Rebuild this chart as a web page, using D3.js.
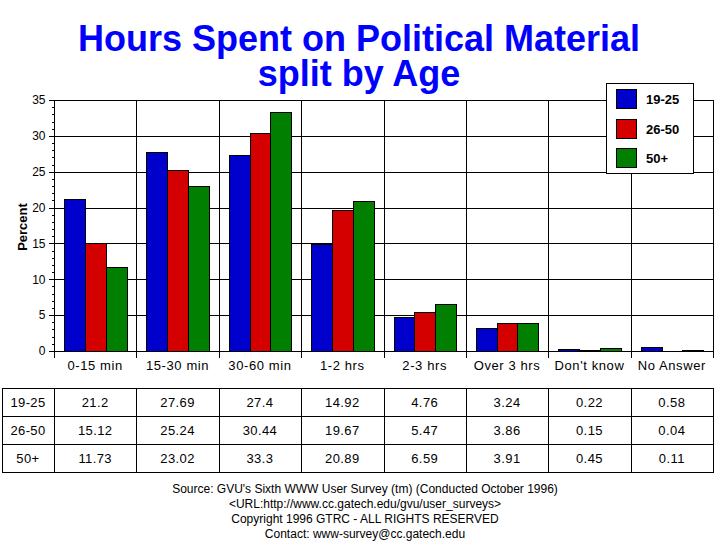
<!DOCTYPE html>
<html><head><meta charset="utf-8">
<script src="https://cdn.jsdelivr.net/npm/d3@7/dist/d3.min.js"></script>
<style>body{margin:0;background:#fff}svg{display:block}text{font-family:"Liberation Sans",Arial,sans-serif}</style>
</head><body>
<script>
const categories = ["0-15 min","15-30 min","30-60 min","1-2 hrs","2-3 hrs","Over 3 hrs","Don't know","No Answer"];
const seriesNames = ["19-25","26-50","50+"];
const s1925 = [21.2,27.69,27.4,14.92,4.76,3.24,0.22,0.58];
const s2650 = [15.12,25.24,30.44,19.67,5.47,3.86,0.15,0.04];
const s50p  = [11.73,23.02,33.3,20.89,6.59,3.91,0.45,0.11];
const yTicks = [0,5,10,15,20,25,30,35];
const titleLines = ["Hours Spent on Political Material","split by Age"];
const footerLines = ["Source: GVU's Sixth WWW User Survey (tm) (Conducted October 1996)","<URL:http://www.cc.gatech.edu/gvu/user_surveys>","Copyright 1996 GTRC - ALL RIGHTS RESERVED","Contact: www-survey@cc.gatech.edu"];
const colors = ["#0000cc","#d40000","#007f00"];
const series = [s1925,s2650,s50p];

const W=728,H=552;
const svg=d3.select("body").append("svg").attr("width",W).attr("height",H);
const L=54,R=713,T=100,B=351;
const x=d3.scaleBand().domain(categories).range([L,R]);
const y=d3.scaleLinear().domain([0,35]).range([B,T]);
const x1=d3.scaleBand().domain(seriesNames).range([10,x.bandwidth()-10]);

// title
svg.selectAll(".title").data(titleLines).enter().append("text")
  .attr("x",359).attr("y",(d,i)=>51+i*35).attr("text-anchor","middle")
  .attr("font-size",36).attr("font-weight","bold").attr("fill","#0000ff").text(d=>d);

// gridlines
const g=svg.append("g").attr("shape-rendering","crispEdges");
g.selectAll(".hg").data(yTicks.filter(d=>d>0)).enter().append("line")
  .attr("x1",L).attr("x2",R).attr("y1",d=>Math.round(y(d))+0.5).attr("y2",d=>Math.round(y(d))+0.5).attr("stroke","#000");
const bounds=categories.map(c=>x(c)).concat([R]);
g.selectAll(".vg").data(bounds.slice(1)).enter().append("line")
  .attr("x1",d=>Math.round(d)+0.5).attr("x2",d=>Math.round(d)+0.5).attr("y1",T).attr("y2",B).attr("stroke","#000");

// bars
series.forEach((s,si)=>{
  g.selectAll(".b"+si).data(s).enter().append("rect")
   .attr("x",(d,i)=>Math.round(x(categories[i])+x1(seriesNames[si]))+0.5)
   .attr("width",Math.round(x1.bandwidth()))
   .attr("y",d=>Math.round(y(d))+0.5)
   .attr("height",d=>Math.max(0,Math.round(B-y(d))))
   .attr("fill",colors[si]).attr("stroke","#000").attr("stroke-width",1);
});

// y axis
const yAxis=d3.axisLeft(y).tickValues(yTicks).tickSize(6).tickPadding(3);
const ya=svg.append("g").attr("transform",`translate(${L+0.5},0)`).call(yAxis);
ya.select(".domain").attr("d",`M0,${T}V${B+0.5}`).attr("stroke","#000");
ya.selectAll("text").attr("font-size",12).attr("font-family","Liberation Sans, Arial, sans-serif").attr("fill","#000");
ya.attr("shape-rendering","crispEdges");
const minor=d3.range(0,36).filter(d=>d%5!==0);
ya.selectAll(".minor").data(minor).enter().append("line")
  .attr("x1",-3).attr("x2",0).attr("y1",d=>Math.round(y(d))+0.5).attr("y2",d=>Math.round(y(d))+0.5).attr("stroke","#000");

svg.append("text").attr("transform","translate(27,227) rotate(-90)").attr("text-anchor","middle")
  .attr("font-size",13).attr("font-weight","bold").text("Percent");

// x axis
g.append("line").attr("x1",L).attr("x2",R+1).attr("y1",B+0.5).attr("y2",B+0.5).attr("stroke","#000");
g.selectAll(".xt").data(bounds).enter().append("line")
  .attr("x1",d=>Math.round(d)+0.5).attr("x2",d=>Math.round(d)+0.5).attr("y1",B).attr("y2",B+7).attr("stroke","#000");
svg.selectAll(".xl").data(categories).enter().append("text")
  .attr("x",d=>x(d)+x.bandwidth()/2).attr("y",370).attr("text-anchor","middle")
  .attr("font-size",13).attr("letter-spacing",0.6).text(d=>d);

// legend
const lg=svg.append("g").attr("shape-rendering","crispEdges");
lg.append("rect").attr("x",606.5).attr("y",83.5).attr("width",87).attr("height",90).attr("fill","#fff").attr("stroke","#000");
seriesNames.forEach((n,i)=>{
  lg.append("rect").attr("x",616.5).attr("y",89.5+i*29.5).attr("width",20).attr("height",19).attr("fill",colors[i]).attr("stroke","#000");
  svg.append("text").attr("x",646).attr("y",104+i*29.5).attr("font-size",13).attr("font-weight","bold").text(n);
});

// table
const tT=388,rowH=28,tL=2;
const tb=svg.append("g").attr("shape-rendering","crispEdges");
tb.append("rect").attr("x",tL+0.5).attr("y",tT+0.5).attr("width",R-tL).attr("height",rowH*3).attr("fill","none").attr("stroke","#000");
tb.selectAll(".tr").data([1,2]).enter().append("line")
  .attr("x1",tL).attr("x2",R).attr("y1",d=>tT+d*rowH+0.5).attr("y2",d=>tT+d*rowH+0.5).attr("stroke","#000");
tb.selectAll(".tc").data(bounds.slice(0,-1)).enter().append("line")
  .attr("x1",d=>Math.round(d)+0.5).attr("x2",d=>Math.round(d)+0.5).attr("y1",tT).attr("y2",tT+rowH*3).attr("stroke","#000");
series.forEach((s,si)=>{
  svg.append("text").attr("x",(tL+L)/2).attr("y",tT+si*rowH+19).attr("text-anchor","middle")
    .attr("font-size",13).attr("letter-spacing",0.4).text(seriesNames[si]);
  svg.selectAll(".tv"+si).data(s).enter().append("text")
    .attr("x",(d,i)=>x(categories[i])+x.bandwidth()/2).attr("y",tT+si*rowH+19).attr("text-anchor","middle")
    .attr("font-size",13).attr("letter-spacing",0.4).text(d=>d);
});

// footer
svg.selectAll(".ft").data(footerLines).enter().append("text")
  .attr("x",365).attr("y",(d,i)=>493+i*15).attr("text-anchor","middle")
  .attr("font-size",12).text(d=>d);
</script>
</body></html>
